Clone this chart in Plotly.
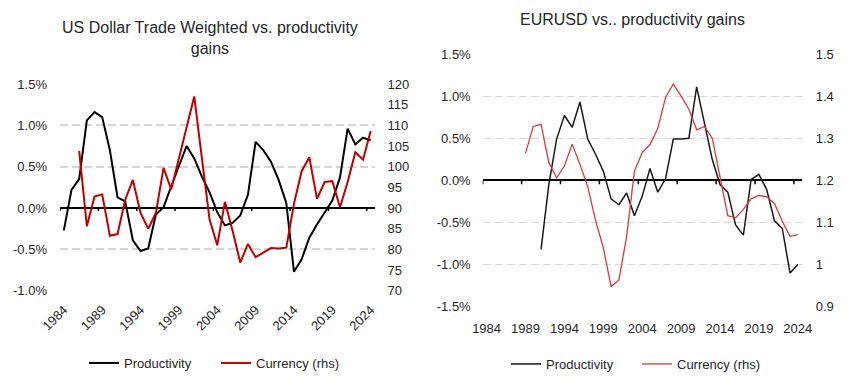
import plotly.graph_objects as go

W, H = 855, 392

# ---------------- data ----------------
us_years_prod = list(range(1984, 2025))
us_productivity = [-0.27, 0.22, 0.35, 1.06, 1.16, 1.10, 0.70, 0.13, 0.08, -0.39,
                   -0.52, -0.49, -0.08, 0.01, 0.26, 0.51, 0.75, 0.60, 0.38, 0.19,
                   -0.05, -0.21, -0.18, -0.09, 0.16, 0.80, 0.70, 0.56, 0.34, 0.06,
                   -0.77, -0.62, -0.36, -0.20, -0.05, 0.09, 0.37, 0.96, 0.77, 0.85,
                   0.82]
us_years_ccy = list(range(1986, 2025))
us_currency = [103.8, 85.6, 92.8, 93.3, 83.3, 83.7, 92.0, 96.8, 88.8, 85.0,
               88.8, 99.7, 94.5, 101.8, 109.3, 117.0, 102.0, 87.2, 81.0, 91.5,
               84.5, 76.8, 81.3, 78.1, 79.2, 80.3, 80.2, 80.4, 91.0, 98.9,
               102.3, 92.2, 96.3, 96.5, 90.2, 96.3, 103.5, 101.7, 108.6]

eu_years_prod = list(range(1991, 2025))
eu_productivity = [-0.82, -0.05, 0.49, 0.77, 0.63, 0.93, 0.49, 0.31, 0.11, -0.22,
                   -0.29, -0.15, -0.42, -0.19, 0.14, -0.14, 0.02, 0.49, 0.49, 0.50,
                   1.11, 0.66, 0.25, -0.05, -0.14, -0.53, -0.65, 0.01, 0.07, -0.11,
                   -0.48, -0.57, -1.10, -1.00]
eu_years_ccy = list(range(1989, 2025))
eu_currency = [1.264, 1.328, 1.333, 1.242, 1.206, 1.234, 1.286, 1.238, 1.185, 1.105,
               1.040, 0.948, 0.963, 1.067, 1.222, 1.266, 1.285, 1.323, 1.397, 1.429,
               1.400, 1.369, 1.320, 1.328, 1.300, 1.210, 1.116, 1.111, 1.131, 1.156,
               1.164, 1.161, 1.145, 1.103, 1.067, 1.071]

x_tick_years = list(range(1984, 2025, 5))
x_tick_labels = [str(y) for y in x_tick_years]

us_left_vals = [-1.0, -0.5, 0.0, 0.5, 1.0, 1.5]
us_left_text = ["-1.0%", "-0.5%", "0.0%", "0.5%", "1.0%", "1.5%"]
us_right_vals = list(range(70, 121, 5))
us_right_text = [str(v) for v in us_right_vals]

eu_left_vals = [-1.5, -1.0, -0.5, 0.0, 0.5, 1.0, 1.5]
eu_left_text = ["-1.5%", "-1.0%", "-0.5%", "0.0%", "0.5%", "1.0%", "1.5%"]
eu_right_vals = [0.9, 1.0, 1.1, 1.2, 1.3, 1.4, 1.5]
eu_right_text = ["0.9", "1", "1.1", "1.2", "1.3", "1.4", "1.5"]

# ---------------- styling ----------------
FONT = "Liberation Sans, Arial, sans-serif"
TXT = "#262626"


def px_x(p):
    return p / W


def px_y(p):
    return 1 - p / H


fig = go.Figure()

fig.add_trace(go.Scatter(x=us_years_prod, y=us_productivity, name="Productivity",
                         mode="lines", line=dict(color="#000000", width=2),
                         xaxis="x", yaxis="y", legend="legend"))
fig.add_trace(go.Scatter(x=us_years_ccy, y=us_currency, name="Currency (rhs)",
                         mode="lines", line=dict(color="#c00000", width=2),
                         xaxis="x", yaxis="y2", legend="legend"))
fig.add_trace(go.Scatter(x=eu_years_prod, y=eu_productivity, name="Productivity",
                         mode="lines", line=dict(color="#1a1a1a", width=1.5),
                         xaxis="x2", yaxis="y3", legend="legend2"))
fig.add_trace(go.Scatter(x=eu_years_ccy, y=eu_currency, name="Currency (rhs)",
                         mode="lines", line=dict(color="#e0383a", width=1.3),
                         xaxis="x2", yaxis="y4", legend="legend2"))

common_x = dict(range=[1983.5, 2024.5], tickmode="array", tickvals=x_tick_years,
                ticktext=x_tick_labels, showgrid=False, zeroline=False,
                showline=False, ticks="", tickfont=dict(size=13, color=TXT, family=FONT),
                fixedrange=True, automargin=False)

fig.update_layout(
    width=W, height=H,
    margin=dict(l=0, r=0, t=0, b=0, autoexpand=False),
    paper_bgcolor="white", plot_bgcolor="white",
    font=dict(family=FONT, size=13, color=TXT),
    hovermode=False,
    xaxis=dict(common_x, domain=[px_x(60), px_x(374.5)], anchor="y",
               tickangle=-45, ticklabelstandoff=8),
    yaxis=dict(domain=[px_y(290.7), px_y(84)], range=[-1.0, 1.5], anchor="x",
               tickmode="array", tickvals=us_left_vals, ticktext=us_left_text,
               showgrid=True, gridcolor="#d6d6d6", gridwidth=2, griddash="8px,4px",
               zeroline=True, zerolinecolor="#000000", zerolinewidth=2,
               showline=False, ticks="", ticklabelstandoff=12, automargin=False,
               tickfont=dict(size=13, color=TXT), fixedrange=True),
    yaxis2=dict(overlaying="y", side="right", anchor="x", range=[70, 120],
                tickmode="array", tickvals=us_right_vals, ticktext=us_right_text,
                showgrid=False, zeroline=False, showline=False, ticks="",
                ticklabelstandoff=12, automargin=False,
                tickfont=dict(size=13, color=TXT), fixedrange=True),
    xaxis2=dict(common_x, domain=[px_x(482.7), px_x(801.7)], anchor="y3",
                tickangle=0, ticklabelstandoff=12),
    yaxis3=dict(domain=[px_y(306.7), px_y(54)], range=[-1.5, 1.5], anchor="x2",
                tickmode="array", tickvals=eu_left_vals, ticktext=eu_left_text,
                showgrid=True, gridcolor="#d9d9d9", gridwidth=1, griddash="8px,4px",
                zeroline=True, zerolinecolor="#000000", zerolinewidth=2,
                showline=False, ticks="", ticklabelstandoff=11, automargin=False,
                tickfont=dict(size=13, color=TXT), fixedrange=True),
    yaxis4=dict(overlaying="y3", side="right", anchor="x2", range=[0.9, 1.5],
                tickmode="array", tickvals=eu_right_vals, ticktext=eu_right_text,
                showgrid=False, zeroline=False, showline=False, ticks="",
                ticklabelstandoff=13, automargin=False,
                tickfont=dict(size=13, color=TXT), fixedrange=True),
    legend=dict(orientation="h", x=px_x(84), y=px_y(363), xanchor="left",
                yanchor="middle", font=dict(size=13, color=TXT), entrywidth=87,
                bgcolor="rgba(0,0,0,0)", itemclick=False, itemdoubleclick=False),
    legend2=dict(orientation="h", x=px_x(506), y=px_y(364), xanchor="left",
                 yanchor="middle", font=dict(size=13, color=TXT), entrywidth=86,
                 bgcolor="rgba(0,0,0,0)", itemclick=False, itemdoubleclick=False),
    showlegend=True,
)

# tick marks on the zero line at the category boundaries
for b in x_tick_years:
    fig.add_shape(type="line", xref="x", yref="y", ysizemode="pixel", yanchor=0,
                  x0=b - 0.5, x1=b - 0.5, y0=0, y1=-3,
                  line=dict(color="#000000", width=1.5))
    fig.add_shape(type="line", xref="x2", yref="y3", ysizemode="pixel", yanchor=0,
                  x0=b - 0.5, x1=b - 0.5, y0=0, y1=-4,
                  line=dict(color="#000000", width=1.5))

fig.add_annotation(text="US Dollar Trade Weighted vs. productivity<br>gains",
                   x=px_x(210), y=px_y(38), xref="paper", yref="paper",
                   showarrow=False, xanchor="center", yanchor="middle",
                   font=dict(size=16, color=TXT, family=FONT))
fig.add_annotation(text="EURUSD vs.. productivity gains",
                   x=px_x(632.5), y=px_y(20), xref="paper", yref="paper",
                   showarrow=False, xanchor="center", yanchor="middle",
                   font=dict(size=16, color=TXT, family=FONT))

fig.write_html("out.html",
               config={"displayModeBar": False, "staticPlot": True},
               post_script="document.body.style.margin='0';document.body.style.padding='0';")
